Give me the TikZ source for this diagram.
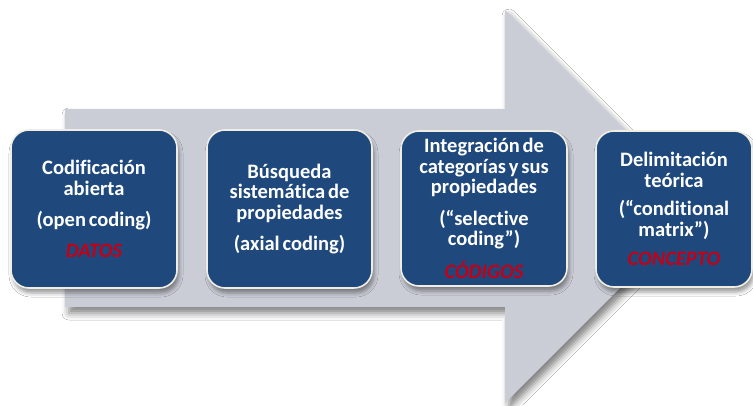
\documentclass[tikz,border=0pt]{standalone}
\usepackage{fontspec}
\setmainfont{Carlito}[Ligatures={TeX,NoCommon},WordSpace=0.6]
\usetikzlibrary{shadows.blur}
\definecolor{shaftcol}{RGB}{202,205,214}
\definecolor{boxblue}{RGB}{31,73,125}
\definecolor{boxedge}{RGB}{240,238,228}
\definecolor{redtxt}{RGB}{196,0,22}
\tikzset{
  stage/.style={rectangle, rounded corners=18pt, fill=boxblue, draw=boxedge,
    line width=1.6pt, text=white, font=\bfseries\fontsize{20.5}{20.5}\selectfont,
    align=center, inner sep=0pt,
    blur shadow={shadow xshift=2pt, shadow yshift=-5pt, shadow blur radius=4pt, shadow opacity=40}}
}
\newcommand{\redtag}[1]{{\color{redtxt}\itshape #1}}
\begin{document}
\begin{tikzpicture}[x=1pt,y=-1pt]
\useasboundingbox (0,0) rectangle (753,405);
\fill[white] (0,0) rectangle (753,405);
\fill[shaftcol, blur shadow={shadow xshift=4pt, shadow yshift=-6pt, shadow blur radius=7pt, shadow opacity=50}]
  (65,109) -- (505,109) -- (505,10) -- (701.5,206.5) -- (505,403) -- (505,307) -- (65,307) -- cycle;
\node[stage, minimum width=166pt, minimum height=158pt] (b1) at (94,209)
  {Codificación\\abierta\\[10.5pt](open coding)\\[10.5pt]\redtag{DATOS}};
\node[stage, minimum width=165pt, minimum height=158pt] (b2) at (289.5,209)
  {Búsqueda\\sistemática de\\propiedades\\[10.5pt](axial coding)};
\node[stage, minimum width=166pt, minimum height=155pt] (b3) at (484,208.5)
  {Integración de\\categorías y sus\\propiedades\\[11pt](“selective\\coding”)\\[11pt]\redtag{CÓDIGOS}};
\node[stage, minimum width=156pt, minimum height=156pt] (b4) at (674,209)
  {Delimitación\\teórica\\[8pt](“conditional\\matrix”)\\[9pt]\redtag{CONCEPTO}};
\end{tikzpicture}
\end{document}
